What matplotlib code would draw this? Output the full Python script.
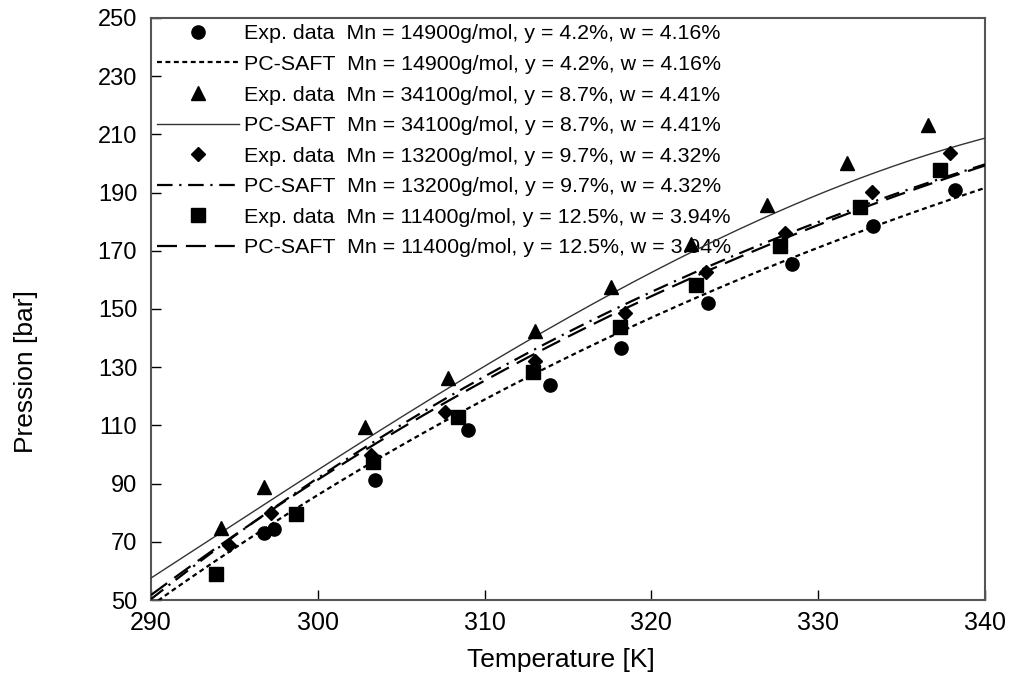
import matplotlib.pyplot as plt
import numpy as np

plt.rcParams['font.family'] = ['Liberation Sans', 'DejaVu Sans']

# experimental points (T [K], P [bar])
T_14900 = [296.8, 297.4, 303.4, 309.0, 313.9, 318.2, 323.4, 328.4, 333.3, 338.2]
P_14900 = [73.1, 74.3, 91.2, 108.4, 123.9, 136.5, 152.0, 165.5, 178.5, 190.9]

T_34100 = [294.2, 296.8, 302.8, 307.8, 313.0, 317.6, 322.4, 326.9, 331.7, 336.6]
P_34100 = [74.6, 88.9, 109.6, 126.2, 142.5, 157.7, 172.3, 185.7, 200.3, 213.2]

T_13200 = [294.7, 297.2, 303.2, 307.6, 313.0, 318.4, 323.3, 328.0, 333.2, 337.9]
P_13200 = [68.9, 79.8, 99.8, 114.7, 132.2, 148.5, 162.7, 176.0, 190.3, 203.7]

T_11400 = [293.9, 298.7, 303.3, 308.4, 312.9, 318.1, 322.7, 327.7, 332.5, 337.3]
P_11400 = [58.9, 79.6, 97.5, 112.8, 128.5, 143.7, 158.2, 171.6, 184.9, 197.8]

# PC-SAFT curves
T_model = [290, 295, 300, 305, 310, 315, 320, 325, 330, 335, 340]
P_model_14900 = [48, 68, 86, 103, 119, 133.5, 147, 159.5, 171, 182, 191.5]
P_model_34100 = [58, 76, 94, 112.5, 130.5, 148, 163, 176.5, 189, 199, 209.5]
P_model_13200 = [50.5, 72, 91.5, 110, 127, 142.5, 156, 168.5, 179.5, 190, 200]
P_model_11400 = [52, 72, 91, 109, 125.5, 141, 154.5, 167, 178.5, 189.5, 199.5]

lab_14900 = "Mn = 14900g/mol, y = 4.2%, w = 4.16%"
lab_34100 = "Mn = 34100g/mol, y = 8.7%, w = 4.41%"
lab_13200 = "Mn = 13200g/mol, y = 9.7%, w = 4.32%"
lab_11400 = "Mn = 11400g/mol, y = 12.5%, w = 3.94%"

fig = plt.figure(figsize=(10.11, 6.84), dpi=100)
ax = fig.add_axes([0.1494, 0.1228, 0.8249, 0.8509])

# smooth the model curves a bit for drawing
Tf = np.linspace(290, 340, 201)
def smooth(p):
    c = np.polyfit(T_model, p, 3)
    return np.polyval(c, Tf)

ax.plot(T_14900, P_14900, 'o', color='black', ms=9.5, ls='none', zorder=4,
        label="Exp. data  " + lab_14900)
ax.plot(Tf, smooth(P_model_14900), color='black', lw=1.6, ls=(0, (2.2, 1.6)), zorder=3,
        label="PC-SAFT  " + lab_14900)
ax.plot(T_34100, P_34100, '^', color='black', ms=10, ls='none', zorder=4,
        label="Exp. data  " + lab_34100)
ax.plot(Tf, smooth(P_model_34100), color='#333333', lw=1.0, ls='-', zorder=3,
        label="PC-SAFT  " + lab_34100)
ax.plot(T_13200, P_13200, 'D', color='black', ms=7, ls='none', zorder=4,
        label="Exp. data  " + lab_13200)
ax.plot(Tf, smooth(P_model_13200), color='black', lw=1.6, ls=(0, (7, 3, 1, 3)), zorder=3,
        label="PC-SAFT  " + lab_13200)
ax.plot(T_11400, P_11400, 's', color='black', ms=10, ls='none', zorder=4,
        label="Exp. data  " + lab_11400)
ax.plot(Tf, smooth(P_model_11400), color='black', lw=1.6, ls=(0, (9, 4)), zorder=3,
        label="PC-SAFT  " + lab_11400)

ax.set_xlim(290, 340)
ax.set_ylim(50, 250)
ax.set_xticks(np.arange(290, 341, 10))
ax.set_yticks(np.arange(50, 251, 20))
ax.tick_params(direction='in', length=7, width=1, colors='black')
ax.tick_params(axis='y', pad=10, labelsize=17)
ax.tick_params(axis='x', pad=8, labelsize=18)
for s in ax.spines.values():
    s.set_color('#555555')
    s.set_linewidth(1.5)

ax.set_xlabel("Temperature [K]", fontsize=19)
ax.set_ylabel("Pression [bar]", fontsize=19)
ax.xaxis.set_label_coords(0.5 - 7 / 834, -0.083)
ax.yaxis.set_label_coords(-0.136, 0.392)

leg = ax.legend(loc='upper left', frameon=False, fontsize=15.4, handlelength=3.8,
                handletextpad=0.25, labelspacing=0.54, borderaxespad=0.25,
                borderpad=0.05)
leg.set_zorder(1)

fig.savefig("out.png", dpi=100)
